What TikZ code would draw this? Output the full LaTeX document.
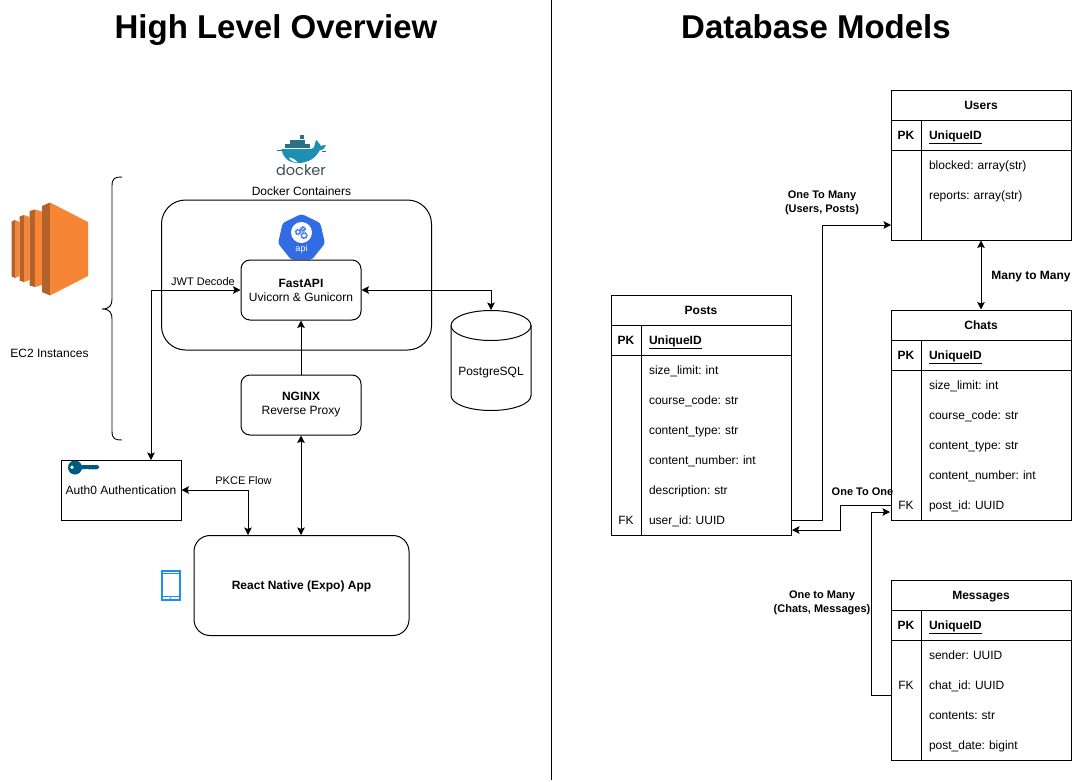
\documentclass[tikz,border=0pt]{standalone}
\usepackage{fontspec}
\setmainfont{Liberation Sans}
\newfontfamily\logofont{Poppins}
\usetikzlibrary{positioning, arrows.meta, shapes.geometric}
\definecolor{ectorange}{HTML}{F68536}
\definecolor{ectdark}{HTML}{B2622A}
\definecolor{dockerblue}{HTML}{1D8FB5}
\definecolor{dockerbox}{HTML}{2B7089}
\definecolor{dockertext}{HTML}{394D54}
\definecolor{apiblue}{HTML}{326CE5}
\definecolor{keyblue}{HTML}{00597F}
\definecolor{phoneblue}{HTML}{1E8CF5}
\frenchspacing
\begin{document}
\begin{tikzpicture}[
    x=1pt, y=-1pt,
    line width=1pt,
    every node/.style={font=\fontsize{12}{14}\selectfont, inner sep=0pt},
    headline/.style={font=\fontsize{33}{40}\selectfont\bfseries, anchor=base},
    edgelabel/.style={font=\fontsize{11}{13}\selectfont},
    edgebold/.style={font=\fontsize{11}{14}\selectfont\bfseries, align=center},
    service/.style={draw, rounded corners=9pt, minimum width=120pt, minimum height=60pt, align=center},
    link/.style={draw, {Stealth[length=7.5pt,width=7.5pt,inset=1.5pt]}-{Stealth[length=7.5pt,width=7.5pt,inset=1.5pt]}},
    linkto/.style={draw, -{Stealth[length=7.5pt,width=7.5pt,inset=1.5pt]}},
    dbtext/.style={text height=11pt, text depth=3pt},
    dbframe/.style={draw, minimum width=180pt},
    dbtitle/.style={draw, dbtext, minimum width=180pt, minimum height=30pt, font=\fontsize{12}{14}\selectfont\bfseries},
    dbkey/.style={dbtext, minimum width=30pt, minimum height=30pt},
    dbpk/.style={dbkey, draw, font=\fontsize{12}{14}\selectfont\bfseries},
    dbid/.style={draw, dbtext, text width=134pt, inner sep=8pt, minimum height=30pt, font=\fontsize{12}{14}\selectfont\bfseries},
    dbrow/.style={dbtext, text width=134pt, inner sep=8pt, minimum height=30pt}
]
\useasboundingbox (0,0) rectangle (1082,782);

% titles and divider
\node[headline] (leftTitle) at (276,38) {High Level Overview};
\node[headline] (rightTitle) at (816,38) {Database Models};
\draw (551.5,0) -- (551.5,780);

% ec2 icon
\foreach \sx/\sm/\se/\st/\sb in {11.5/15/19.5/220/278, 19.5/24/29.5/215/282, 29.5/35/42/209.5/287}{
    \fill[ectdark] (\sx,\st+1.5) -- (\sm,\st) -- (\sm,\sb) -- (\sx,\sb-1.5) -- cycle;
    \fill[ectorange] (\sm,\st) -- (\se,\st+2) -- (\se,\sb-2) -- (\sm,\sb) -- cycle;
}
\fill[ectdark] (42,206) -- (50,202.5) -- (50,295.5) -- (42,292) -- cycle;
\fill[ectorange] (50,202.5) -- (88,222) -- (88,276) -- (50,295.5) -- cycle;
\node (ec2Label) at (49.5,353) {EC2 Instances};
\draw[line width=0.9pt] (122,177) .. controls (115,177) and (112,178) .. (112,186) -- (112,299)
    .. controls (112,305) and (110,309) .. (102,309)
    .. controls (110,309) and (112,313) .. (112,319) -- (112,431)
    .. controls (112,439) and (115,440) .. (122,440);

% docker logo
\foreach \bx/\by in {285/144,290/144,295/144,300/144,305/144,290/139.5,295/139.5,300/139.5,299.5/135}{
    \fill[dockerbox] (\bx,\by) rectangle ++(4.7,4.2);
}
\fill[dockerblue] (281.5,149) -- (311,149) .. controls (313,149) and (315,147) .. (315,144)
    .. controls (315.5,141) and (316,140) .. (316.5,140) .. controls (318,142) and (320,144) .. (321,146)
    .. controls (323,145) and (325,145) .. (326,145) .. controls (325,148) and (323,150) .. (319.5,150.5)
    .. controls (316,158) and (308,163) .. (298,163) .. controls (289,163) and (283,158) .. (281.5,149) -- cycle;
\fill[white] (289,157.5) .. controls (293,158) and (296,160) .. (298,162.5) .. controls (294,163) and (290,160) .. (289,157.5) -- cycle;
\draw[dockerbox, line width=0.6pt] (277,150) -- (282,150) (322,151.5) -- (326,151.5);
\node[font=\fontsize{14.5}{16}\selectfont\logofont, text=dockertext] (dockerLogo) at (301,170.5) {docker};
\node (dockerLabel) at (301.5,191) {Docker Containers};

% services
\node[draw, rounded corners=24pt, minimum width=270pt, minimum height=150pt] (dockerBox) at (296.5,275) {};
\node[regular polygon, regular polygon sides=7, fill=apiblue, draw=apiblue, line width=1pt,
    rounded corners=2.5pt, minimum size=47pt] (apiIcon) at (301.5,238) {};
\fill[white] (301.5,232.5) circle (10.5);
\foreach \gx/\gy/\gr in {298/232/2, 303/229/1.7, 304/235.5/2.4}{
    \draw[apiblue, line width=0.8pt] (\gx,\gy) circle (\gr);
    \draw[apiblue, line width=1pt, dash pattern=on 0.9pt off 0.9pt] (\gx,\gy) circle (\gr+0.9);
}
\node[font=\fontsize{9}{10}\selectfont, text=white] (apiLabel) at (301.5,249) {api};
\node[service] (fastapi) at (301,290) {\textbf{FastAPI}\\Uvicorn \& Gunicorn};
\node[service] (nginx) at (301,405) {\textbf{NGINX}\\Reverse Proxy};
\node[draw, minimum width=120pt, minimum height=60pt] (auth) at (121,490) {Auth0 Authentication};
\node[draw, dbtext, rounded corners=16pt, minimum width=215pt, minimum height=100pt, font=\fontsize{12}{14}\selectfont\bfseries]
    (reactApp) at (301.5,585.5) {React Native (Expo) App};

% database drum
\node[minimum width=80pt, minimum height=100pt] (postgres) at (491,360.5) {};
\draw (451,325.5) .. controls (451,317) and (469,310.5) .. (491,310.5) .. controls (513,310.5) and (531,317) .. (531,325.5)
    -- (531,395.5) .. controls (531,404) and (513,410.5) .. (491,410.5) .. controls (469,410.5) and (451,404) .. (451,395.5) -- cycle;
\draw (451,325.5) .. controls (451,334) and (469,340.5) .. (491,340.5) .. controls (513,340.5) and (531,334) .. (531,325.5);
\node (postgresLabel) at (491,373) {PostgreSQL};

% key and phone icons
\fill[keyblue] (75,467.5) circle (7);
\fill[keyblue] (80,465) -- (97.5,465) -- (99.5,467) -- (97.5,469) -- (95.5,469.5) -- (94,468.8) -- (92.5,469.5) -- (91,468.8) -- (89.5,469.5) -- (88,468.8) -- (80,469.5) -- cycle;
\fill[white] (72,467.3) circle (1.9);
\draw[phoneblue, line width=2pt] (161.5,570.5) rectangle (179.5,600);
\draw[phoneblue, line width=1.5pt] (161.5,573.5) -- (179.5,573.5) (161.5,596.5) -- (179.5,596.5);
\fill[phoneblue] (170.5,598.3) circle (0.9);

% service connectors
\coordinate (authTop) at (151,460);
\coordinate (reactTop) at (248,535);
\draw[link] (authTop) |- (fastapi.west);
\draw[link] (fastapi.east) -| (postgres.north);
\draw[linkto] (nginx.north) -- (fastapi.south);
\draw[link] (nginx.south) -- (reactApp.north -| nginx.south);
\draw[link] (auth.east) -| (reactTop);
\node[edgelabel] (jwtLabel) at (203,282) {JWT Decode};
\node[edgelabel] (pkceLabel) at (243.5,481) {PKCE Flow};

% users table
\node[dbframe, minimum height=150pt] (users) at (981,165) {};
\node[dbtitle] (usersTitle) at (981,105) {Users};
\node[dbpk] (usersPK) at (906,135) {PK};
\node[dbid] (usersID) at (996,135) {\underline{UniqueID}};
\draw (usersPK.south east) -- (usersPK.east |- users.south);
\foreach \rowy/\rowtext in {165/blocked: array(str), 195/reports: array(str), 225/{}}{
    \node[dbrow] (usersRow\rowy) at (996,\rowy) {\rowtext};
}

% chats table
\node[dbframe, minimum height=210pt] (chats) at (981,415) {};
\node[dbtitle] (chatsTitle) at (981,325) {Chats};
\node[dbpk] (chatsPK) at (906,355) {PK};
\node[dbid] (chatsID) at (996,355) {\underline{UniqueID}};
\draw (chatsPK.south east) -- (chatsPK.east |- chats.south);
\foreach \rowy/\rowtext in {385/size\_limit: int, 415/course\_code: str, 445/content\_type: str, 475/content\_number: int, 505/post\_id: UUID}{
    \node[dbrow] (chatsRow\rowy) at (996,\rowy) {\rowtext};
}
\node[dbkey] (chatsFK) at (906,505) {FK};

% posts table
\node[dbframe, minimum height=240pt] (posts) at (701,415) {};
\node[dbtitle] (postsTitle) at (701,310) {Posts};
\node[dbpk] (postsPK) at (626,340) {PK};
\node[dbid] (postsID) at (716,340) {\underline{UniqueID}};
\draw (postsPK.south east) -- (postsPK.east |- posts.south);
\foreach \rowy/\rowtext in {370/size\_limit: int, 400/course\_code: str, 430/content\_type: str, 460/content\_number: int, 490/description: str, 520/user\_id: UUID}{
    \node[dbrow] (postsRow\rowy) at (716,\rowy) {\rowtext};
}
\node[dbkey] (postsFK) at (626,520) {FK};

% messages table
\node[dbframe, minimum height=180pt] (messages) at (981,670) {};
\node[dbtitle] (messagesTitle) at (981,595) {Messages};
\node[dbpk] (messagesPK) at (906,625) {PK};
\node[dbid] (messagesID) at (996,625) {\underline{UniqueID}};
\draw (messagesPK.south east) -- (messagesPK.east |- messages.south);
\foreach \rowy/\rowtext in {655/sender: UUID, 685/chat\_id: UUID, 715/contents: str, 745/post\_date: bigint}{
    \node[dbrow] (messagesRow\rowy) at (996,\rowy) {\rowtext};
}
\node[dbkey] (messagesFK) at (906,685) {FK};

% table connectors
\coordinate (usersIn) at (891,225);
\coordinate (postsIn) at (792,530);
\coordinate (messagesOut) at (891,695);
\coordinate (chatsIn) at (890,512);
\draw[linkto] (postsRow520.east) -- ++(31,0) |- (usersIn);
\draw[linkto] (chatsFK.west) -- ++(-50,0) |- (postsIn);
\draw[linkto] (messagesOut) -- ++(-20,0) |- (chatsIn);
\draw[link] (users.south -| usersTitle) -- (chatsTitle.north);
\node[edgebold] (usersPostsLabel) at (822,203) {One To Many\\(Users, Posts)};
\node[edgebold] (chatsPostsLabel) at (862.5,491.5) {One To One};
\node[edgebold] (chatsMessagesLabel) at (822,603) {One to Many\\(Chats, Messages)};
\node[font=\fontsize{12}{14}\selectfont\bfseries] (usersChatsLabel) at (1031,277) {Many to Many};
\end{tikzpicture}
\end{document}
